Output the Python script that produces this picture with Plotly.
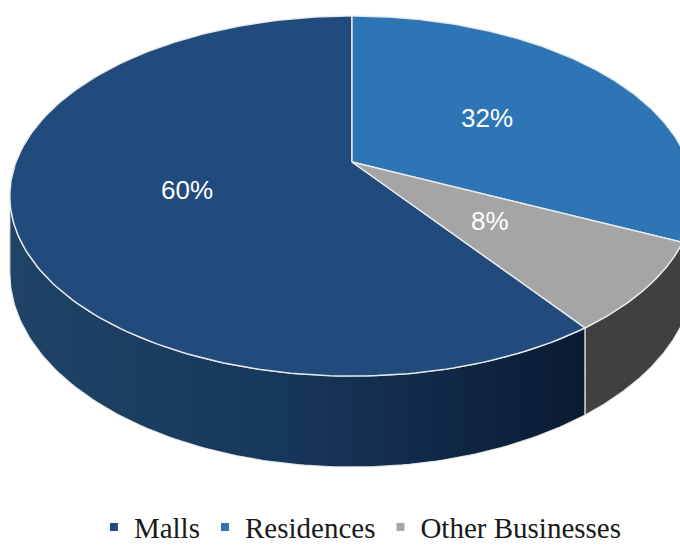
import numpy as np
import plotly.graph_objects as go

# ---- data ----
categories = ["Malls", "Residences", "Other Businesses"]
values = [60, 32, 8]
top_colors = ["#214B7C", "#2E75B6", "#A5A5A5"]
side_colors = ["#1B3C62", "#245E9A", "#404040"]
label_texts = ["60%", "32%", "8%"]

# ---- pseudo-3D projection parameters (pixel space) ----
W, H = 680, 546
cx, cy = 352.0, 162.0      # projected pie centre
A, B = 336.0, 173.6        # horizontal / depth scale
k = 0.189                  # perspective factor
T = 73.8                   # thickness
rotation = 144.0           # start angle of first slice (clockwise from top)
sil = np.degrees(np.arccos(-k))  # silhouette angle


def proj(phi_deg, r, z):
    phi = np.radians(phi_deg)
    X = r * np.sin(phi)
    Y = r * np.cos(phi)
    w = 1 + k * Y
    return cx + A * X / w, cy - B * Y / w + T * z / w


total = sum(values)
starts, ends = [], []
acc = rotation
for v in values:
    starts.append(acc)
    acc += v / total * 360.0
    ends.append(acc)

fig = go.Figure()

# sides (front visible part only)
for i, (a1, a2) in enumerate(zip(starts, ends)):
    for off in (0.0, 360.0, -360.0):
        s1, s2 = max(a1 - off, sil), min(a2 - off, 360 - sil)
        if s2 <= s1:
            continue
        ph = np.linspace(s1, s2, 120)
        xt, yt = proj(ph, 1.0, 0.0)
        xb, yb = proj(ph[::-1], 1.0, 1.0)
        xs = np.concatenate([xt, xb, xt[:1]])
        ys = np.concatenate([yt, yb, yt[:1]])
        kw = {}
        if i == 0:
            kw["fillgradient"] = dict(
                type="horizontal",
                colorscale=[[0, "#1F4468"], [0.5, "#163659"], [1, "#0A1A33"]],
            )
        fig.add_trace(go.Scatter(
            x=xs, y=ys, mode="lines", fill="toself",
            fillcolor=side_colors[i],
            line=dict(color="rgba(235,235,235,0.9)", width=1.2),
            hoverinfo="skip", showlegend=False, **kw))

# top faces
for i, (a1, a2) in enumerate(zip(starts, ends)):
    ph = np.linspace(a1, a2, 200)
    xa, ya = proj(ph, 1.0, 0.0)
    x0, y0 = proj(0.0, 0.0, 0.0)
    xs = np.concatenate([[x0], xa, [x0]])
    ys = np.concatenate([[y0], ya, [y0]])
    fig.add_trace(go.Scatter(
        x=xs, y=ys, mode="lines", fill="toself",
        fillcolor=top_colors[i],
        line=dict(color="rgba(235,235,235,0.95)", width=1.5),
        hoverinfo="skip", showlegend=False))

# labels
for i, (a1, a2) in enumerate(zip(starts, ends)):
    lx, ly = proj((a1 + a2) / 2, 0.5, 0.0)
    fig.add_annotation(x=float(lx), y=float(ly), text=label_texts[i],
                       showarrow=False,
                       font=dict(family="Liberation Sans Narrow, Liberation Sans, Arial",
                                 size=26, color="white"))

# legend entries
for i, c in enumerate(categories):
    fig.add_trace(go.Scatter(
        x=[None], y=[None], mode="markers", name=c,
        marker=dict(symbol="square", size=8, color=top_colors[i])))

fig.update_layout(
    width=W, height=H,
    margin=dict(l=0, r=0, t=0, b=0, autoexpand=False),
    paper_bgcolor="white", plot_bgcolor="white",
    xaxis=dict(range=[0, W], visible=False, fixedrange=True),
    yaxis=dict(range=[H, 0], visible=False, fixedrange=True),
    showlegend=True,
    legend=dict(orientation="h", x=0.53, xanchor="center", y=-0.012, yanchor="bottom",
                font=dict(family="Liberation Serif, Times New Roman, serif",
                          size=29, color="#1a1a1a"),
                itemwidth=30, bgcolor="rgba(0,0,0,0)"),
)

fig.write_html("out.html")
